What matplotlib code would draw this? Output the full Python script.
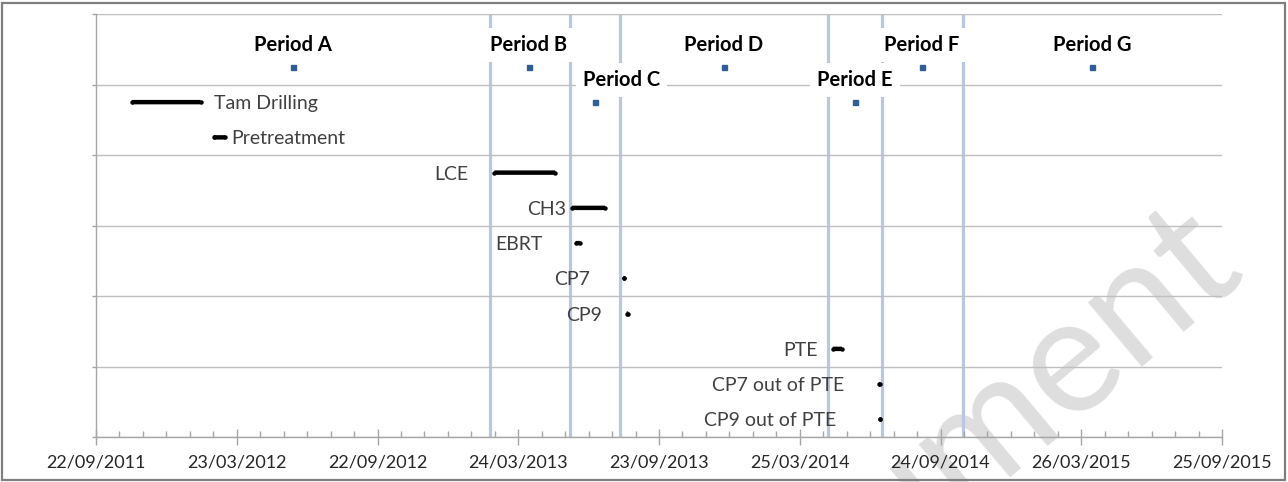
# project timeline: activities and periods on a date axis

import numpy as np
import matplotlib.pyplot as plt
import matplotlib.dates as mdates
from matplotlib.patches import Rectangle

plt.rcParams['font.family'] = ['Lato', 'DejaVu Sans']

#%% Data

# activities (bar from start to end date, one row each)
tasks = ['Tam Drilling', 'Pretreatment', 'LCE', 'CH3', 'EBRT', 'CP7', 'CP9',
         'PTE', 'CP7 out of PTE', 'CP9 out of PTE']
task_start = ['2011-11-08', '2012-02-22', '2013-02-21', '2013-06-02', '2013-06-07',
              '2013-08-08', '2013-08-12', '2014-05-07', '2014-07-06', '2014-07-07']
task_end = ['2012-02-05', '2012-03-08', '2013-05-11', '2013-07-15', '2013-06-12',
            '2013-08-09', '2013-08-14', '2014-05-19', '2014-07-07', '2014-07-07']
task_row = [9.5, 8.5, 7.5, 6.5, 5.5, 4.5, 3.5, 2.5, 1.5, 0.5]

# periods: mid-point marker and row
periods = ['Period A', 'Period B', 'Period C', 'Period D', 'Period E', 'Period F', 'Period G']
period_mid = ['2012-06-04', '2013-04-07', '2013-07-02', '2013-12-16', '2014-06-05',
              '2014-08-31', '2015-04-09']
period_row = [10.5, 10.5, 9.5, 10.5, 9.5, 10.5, 10.5]

# boundaries between periods
boundaries = ['2013-02-15', '2013-05-30', '2013-08-03', '2014-05-01', '2014-07-10', '2014-10-23']

# axis range
x_first = '2011-09-22'
x_last = '2015-09-25'

#%% Label placement (offsets in points from bar start/end)
label_side = ['right', 'right', 'left', 'left', 'left', 'left', 'left', 'left', 'left', 'left']
label_dx = [10, 4, -19, -4, -24, -24, -18, -11, -25, -31]
period_dx = [0, 0, 19, 0, 0, 0, 0]
period_dy = 16

def dnum(s):
    return mdates.date2num(np.datetime64(s))

#%% Figure
fig = plt.figure(figsize=(12.88, 4.82), dpi=100)
fig.patch.set_facecolor('white')
ax = fig.add_axes([96/1288, 1-437/482, 1126/1288, 423/482])
ax.patch.set_alpha(0)

# watermark behind the plot
fig.text(1245/1288, 1-268/482, 'Document', rotation=40, rotation_mode='anchor',
         ha='right', va='baseline', fontsize=118, color='#DEDEDE', zorder=-1)

# outer chart border
fig.patches.append(Rectangle((2/1288, 2/482), 1283/1288, 477/482, transform=fig.transFigure,
                             fill=False, edgecolor='#7F7F7F', linewidth=1.6))

x0, x1 = dnum(x_first), dnum(x_last)
ax.set_xlim(x0, x1)
ax.set_ylim(0, 12)

# horizontal gridlines
ax.set_yticks(np.arange(0, 13, 2))
ax.set_yticklabels([])
ax.yaxis.grid(True, color='#BFBFBF', linewidth=1.0, zorder=0)
ax.tick_params(axis='y', direction='out', length=3, color='#A6A6A6', width=1)

# x axis: major every 183 days, minor every 30.5 days
majors = x0 + 183*np.arange(9)
ax.set_xticks(majors)
ax.set_xticklabels([mdates.num2date(m).strftime('%d/%m/%Y') for m in majors],
                   fontsize=13, color='#262626')
ax.set_xticks(x0 + 30.5*np.arange(49), minor=True)
ax.tick_params(axis='x', which='major', direction='inout', length=11, width=1,
               color='#A6A6A6', pad=7)
ax.tick_params(axis='x', which='minor', direction='in', length=4, width=1, color='#A6A6A6')

for side in ['top', 'right']:
    ax.spines[side].set_visible(False)
for side in ['left', 'bottom']:
    ax.spines[side].set_color('#A6A6A6')
    ax.spines[side].set_linewidth(1.0)

# period boundaries
for b in boundaries:
    ax.axvline(dnum(b), color='#B9C7E0', linewidth=2.3, zorder=1)

# activity bars (round ends drawn as markers so one-day bars still show) and labels
for i in range(len(tasks)):
    s, e = dnum(task_start[i]), dnum(task_end[i])
    ax.plot([s, e], [task_row[i], task_row[i]], '-', color='black', linewidth=3.2,
            solid_capstyle='butt', marker='o', markersize=3.2, markeredgewidth=0,
            zorder=3, snap=False)
    if label_side[i] == 'right':
        ax.annotate(tasks[i], (e, task_row[i]), xytext=(label_dx[i], -1),
                    textcoords='offset points', ha='left', va='center',
                    fontsize=14, color='#404040')
    else:
        ax.annotate(tasks[i], (s, task_row[i]), xytext=(label_dx[i], -1),
                    textcoords='offset points', ha='right', va='center',
                    fontsize=14, color='#404040')

# period markers with boxed labels
for i in range(len(periods)):
    m = dnum(period_mid[i])
    ax.plot(m, period_row[i], 's', color='#2F5F98', markersize=3.6, zorder=3)
    ax.annotate(periods[i], (m, period_row[i]), xytext=(period_dx[i], period_dy),
                textcoords='offset points', ha='center', va='center',
                fontsize=14.5, fontweight='bold', color='black', zorder=4,
                bbox=dict(boxstyle='square,pad=0.35', facecolor='white', edgecolor='none'))

fig.savefig('out.png', dpi=100)
